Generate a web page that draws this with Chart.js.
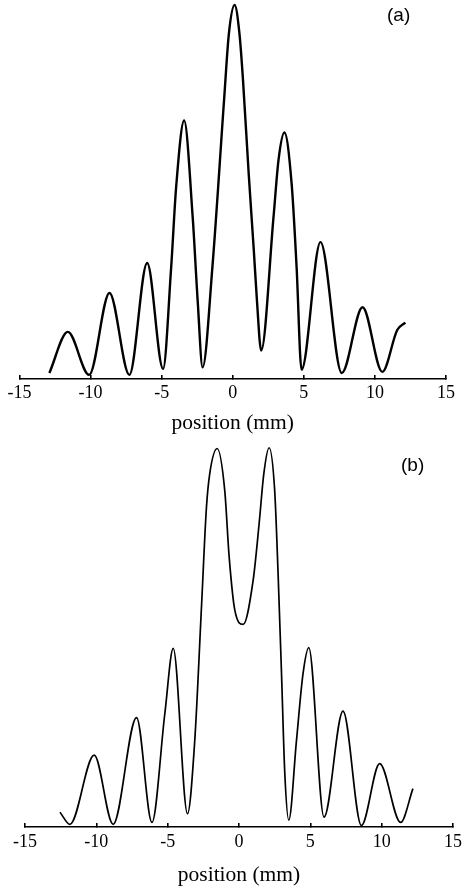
<!DOCTYPE html>
<html>
<head>
<meta charset="utf-8">
<script src="https://cdn.jsdelivr.net/npm/chart.js@4/dist/chart.umd.min.js"></script>
<style>
  html, body { margin: 0; padding: 0; background: #fff; }
  body { width: 474px; height: 890px; position: relative; overflow: hidden; }
  canvas { position: absolute; left: 0; }
  #ca { top: 0; }
  #cb { top: 445px; }
  .lab { position: absolute; font-family: "Liberation Sans", Arial, sans-serif; font-size: 19px; color: #000; line-height: 1; }
</style>
</head>
<body>
<canvas id="ca" width="474" height="445"></canvas>
<canvas id="cb" width="474" height="445"></canvas>
<div class="lab" style="left:387px; top:5px;">(a)</div>
<div class="lab" style="left:401px; top:455px;">(b)</div>
<script>
// ---- data (position in mm, relative intensity) ----
const xTicks = [-15, -10, -5, 0, 5, 10, 15];
const axisTitle = "position (mm)";
const panelLabels = ["(a)", "(b)"];

const posA = [-12.9, -11.6, -10.1, -8.67, -7.27, -6.02, -4.9, -4.33, -3.98, -3.42, -2.82, -2.47, -2.12,
  -1.43, -0.61, -0.27, 0.13, 0.47, 0.72, 1.12, 1.48, 1.70, 2.0, 2.87, 3.22, 3.63, 4.14,
  4.49, 4.84, 6.17, 7.67, 9.13, 10.52, 11.57, 12.14];
const intA = [0.016, 0.126, 0.011, 0.230, 0.011, 0.310, 0.027, 0.300, 0.514, 0.691, 0.434, 0.211, 0.031,
  0.300, 0.746, 0.924, 1.0, 0.924, 0.80, 0.550, 0.345, 0.211, 0.076, 0.434, 0.586, 0.659, 0.523,
  0.300, 0.025, 0.366, 0.016, 0.192, 0.019, 0.131, 0.151];

const posB = [-12.55, -11.85, -10.15, -8.82, -7.18, -6.10, -5.2, -4.61, -3.61, -3.10, -2.63, -2.28, -2.05,
  -1.53, -1.0, -0.69, -0.29, 0.29, 0.99, 1.41, 1.74, 2.11, 2.5, 2.74, 2.98, 3.21, 3.49, 4.03, 4.49, 4.89,
  5.96, 7.29, 8.58, 9.86, 11.33, 12.19];
const intB = [0.039, 0.007, 0.189, 0.007, 0.288, 0.012, 0.298, 0.470, 0.035, 0.228, 0.579, 0.842, 0.930,
  0.996, 0.886, 0.711, 0.570, 0.533, 0.649, 0.798, 0.930, 0.998, 0.886, 0.667, 0.404, 0.141, 0.018, 0.228,
  0.404, 0.472, 0.026, 0.305, 0.004, 0.167, 0.012, 0.101];

function makeChart(id, xs, ys, cfg) {
  const pts = xs.map((x, i) => ({ x: x, y: ys[i] }));
  return new Chart(document.getElementById(id), {
    type: 'line',
    data: { datasets: [{
      data: pts,
      borderColor: '#000',
      borderWidth: cfg.lw,
      pointRadius: 0,
      fill: false,
      cubicInterpolationMode: 'monotone',
      clip: false
    }]},
    options: {
      responsive: false,
      animation: false,
      events: [],
      layout: { padding: { left: cfg.left, right: cfg.right, top: cfg.top, bottom: cfg.bottom } },
      plugins: { legend: { display: false }, tooltip: { enabled: false }, title: { display: false } },
      scales: {
        x: {
          type: 'linear',
          min: -15, max: 15,
          afterBuildTicks: s => { s.ticks = xTicks.map(v => ({ value: v })); },
          afterFit: s => { s.height = cfg.axisH; },
          border: { display: true, color: '#000', width: 1.6 },
          grid: { display: true, drawOnChartArea: false, drawTicks: true, tickLength: -4, color: '#000', lineWidth: 1.6 },
          ticks: {
            color: '#000', padding: cfg.tickPad, maxRotation: 0, autoSkip: false,
            font: { family: "'Liberation Serif', 'Times New Roman', serif", size: 18 }
          },
          title: {
            display: true, text: axisTitle, color: '#000',
            font: { family: "'Liberation Serif', 'Times New Roman', serif", size: 21.5 },
            padding: { top: 0, bottom: cfg.titlePad }
          }
        },
        y: { display: false, min: 0, max: 1.0 }
      }
    }
  });
}

makeChart('ca', posA, intA, { lw: 2.4, left: 15, right: 28, top: 5, bottom: 0, axisH: 66, tickPad: 7.5, titlePad: 9 });
makeChart('cb', posB, intB, { lw: 1.7, left: 25, right: 21, top: 2, bottom: 0, axisH: 63, tickPad: 8.5, titlePad: 2 });
</script>
</body>
</html>
